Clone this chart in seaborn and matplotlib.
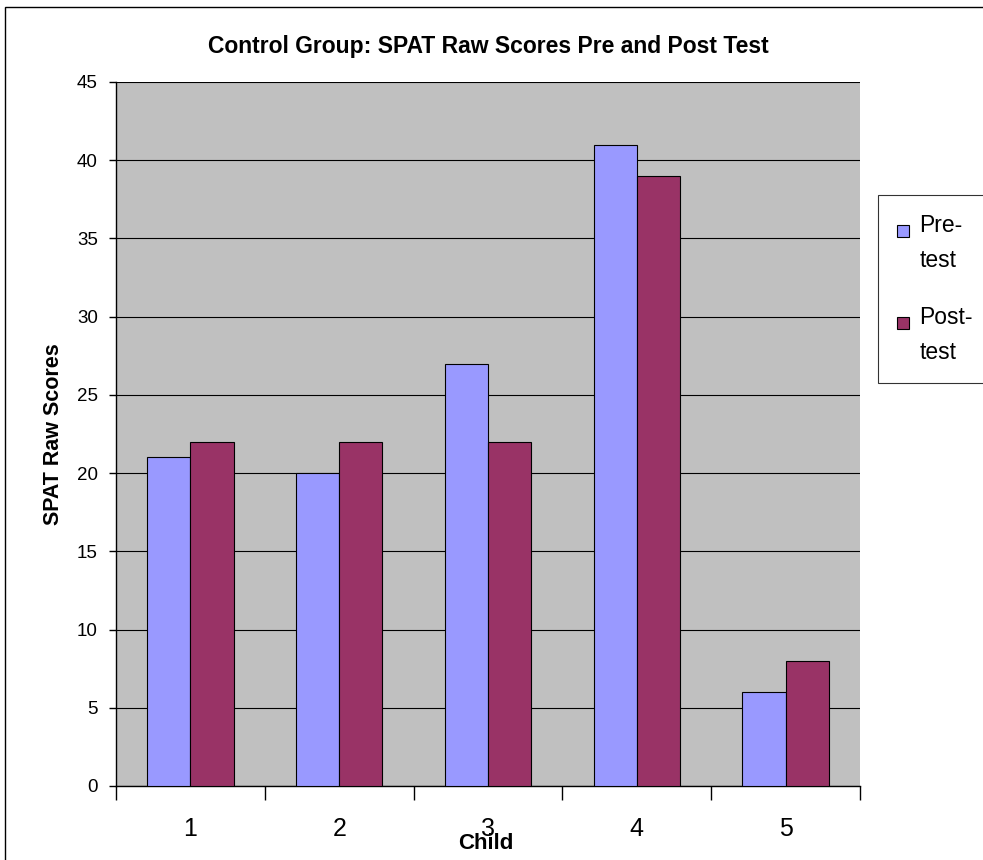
import pandas as pd
import matplotlib
matplotlib.use('Agg')
import matplotlib.pyplot as plt
import seaborn as sns
from matplotlib.patches import Rectangle, Patch
from matplotlib.legend_handler import HandlerPatch

# data
children = ['1', '2', '3', '4', '5']
pre_test = [21, 20, 27, 41, 6]
post_test = [22, 22, 22, 39, 8]
series = ['Pre-\ntest', 'Post-\ntest']
colors = ['#9999FF', '#993366']

df = pd.DataFrame({
    'Child': children * 2,
    'Score': pre_test + post_test,
    'Test': [series[0]] * 5 + [series[1]] * 5,
})

sns.set_theme(style='white')
plt.rcParams['font.family'] = ['Liberation Sans', 'DejaVu Sans']
plt.rcParams.update({'text.color': 'black', 'axes.labelcolor': 'black',
                     'xtick.color': 'black', 'ytick.color': 'black'})

fig = plt.figure(figsize=(9.83, 8.60), dpi=100)
ax = fig.add_axes([116 / 983, 1 - 786 / 860, (860 - 116) / 983, (786 - 82) / 860])

sns.barplot(data=df, x='Child', y='Score', hue='Test', palette=colors,
            saturation=1, width=0.58, gap=0, edgecolor='black', linewidth=0.8,
            legend=False, ax=ax, zorder=3)

ax.set_facecolor('#C0C0C0')
ax.set_ylim(0, 45)
ax.set_xlim(-0.5, 4.5)
ax.set_yticks(range(0, 46, 5))
ax.yaxis.grid(True, color='black', linewidth=0.8, zorder=0)
ax.set_axisbelow(True)
for s in ['top', 'right']:
    ax.spines[s].set_visible(False)
for s in ['left', 'bottom']:
    ax.spines[s].set_color('black')
    ax.spines[s].set_linewidth(1)

ax.tick_params(axis='y', which='major', length=5, width=1,
               labelsize=13.5, direction='out', left=True, pad=8)
ax.tick_params(axis='x', which='major', length=0, labelsize=18, pad=22)
ax.set_xticks(range(5), children)
ax.set_xticks([i - 0.5 for i in range(6)], minor=True)
ax.tick_params(axis='x', which='minor', length=10, width=1,
               direction='out', bottom=True)

ax.set_xlabel('Child', fontsize=16, fontweight='bold')
ax.xaxis.set_label_coords(0.497, -0.067)
ax.set_ylabel('SPAT Raw Scores', fontsize=15.5, fontweight='bold', labelpad=9)
ax.set_title('Control Group: SPAT Raw Scores Pre and Post Test',
             fontsize=16.5, fontweight='bold', pad=21)


# legend swatch sits beside the first line of each two-line label
def top_square(legend, orig_handle, xdescent, ydescent, width, height, fontsize):
    s = 0.5 * fontsize
    return Rectangle((-xdescent, 0.68 * fontsize), s, s)


handles = [Patch(facecolor=c, edgecolor='black', linewidth=0.8) for c in colors]
leg = fig.legend(handles, series, loc='upper left',
                 bbox_to_anchor=(878 / 983, 1 - 195 / 860),
                 handler_map={Patch: HandlerPatch(patch_func=top_square)},
                 fontsize=16.5, frameon=True, fancybox=False, edgecolor='black',
                 handlelength=0.5, handleheight=0.7, handletextpad=0.45,
                 labelspacing=1.5, borderpad=0.85, borderaxespad=0)
leg.get_frame().set_linewidth(0.8)
for t in leg.get_texts():
    t.set_linespacing(1.64)

# outer chart border
fig.patches.append(Rectangle((5 / 983, -0.01), 1.0, 1 - 7 / 860 + 0.01,
                             transform=fig.transFigure, fill=False,
                             edgecolor='black', linewidth=1))

fig.savefig('out.png', dpi=100)
plt.close()
